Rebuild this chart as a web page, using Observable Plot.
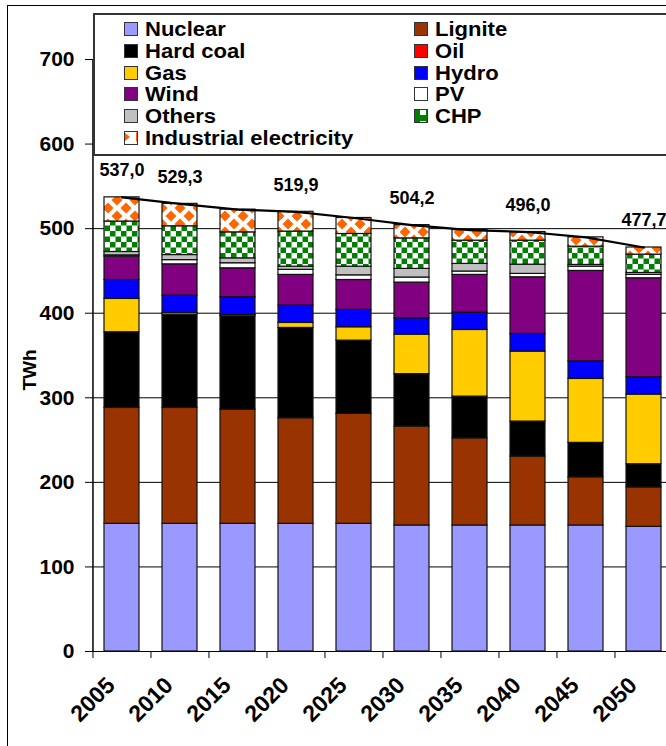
<!DOCTYPE html>
<html><head><meta charset="utf-8">
<script src="https://cdn.jsdelivr.net/npm/d3@7"></script>
<script src="https://cdn.jsdelivr.net/npm/@observablehq/plot@0.6"></script>
<style>
html,body{margin:0;padding:0;background:#fff;overflow:hidden;}
#wrap{position:relative;width:666px;height:746px;overflow:hidden;font-family:"Liberation Sans",Arial,sans-serif;background:#fff;}
#chart svg{position:absolute;left:0;top:0;}
#frame{position:absolute;left:7px;top:5px;width:720px;height:800px;border-left:1.5px solid #000;border-top:1.5px solid #000;pointer-events:none;}
#legend{position:absolute;left:93px;top:13px;width:640px;height:143px;box-sizing:border-box;border:2px solid #333;background:#fff;}
.item{position:absolute;height:20px;font-weight:bold;white-space:nowrap;color:#000;}
.item svg{position:absolute;left:0;top:3px;}
.item span{position:absolute;left:21px;top:0;display:block;height:20px;line-height:20px;font-size:19.5px;transform:scaleX(1.13);transform-origin:0 50%;}
</style></head>
<body>
<svg width="0" height="0" style="position:absolute">
<defs>
<pattern id="chp" patternUnits="userSpaceOnUse" width="11" height="11">
 <rect width="11" height="11" fill="#fff"/><rect width="5.5" height="5.5" fill="#008000"/><rect x="5.5" y="5.5" width="5.5" height="5.5" fill="#008000"/>
</pattern>
<pattern id="chpS" patternUnits="userSpaceOnUse" width="12" height="12">
 <rect width="12" height="12" fill="#fff"/><rect width="6" height="6" fill="#008000"/><rect x="6" y="6" width="6" height="6" fill="#008000"/><rect x="0" y="6" width="6" height="6" fill="#008000"/>
</pattern>
<pattern id="ind" patternUnits="userSpaceOnUse" width="18" height="16">
 <rect width="18" height="16" fill="#fff"/>
 <path d="M9,2.5 L14.5,8 L9,13.5 L3.5,8Z M0,-5.5 L5.5,0 L0,5.5 L-5.5,0Z M18,-5.5 L23.5,0 L18,5.5 L12.5,0Z M0,10.5 L5.5,16 L0,21.5 L-5.5,16Z M18,10.5 L23.5,16 L18,21.5 L12.5,16Z" fill="#ff6600"/>
</pattern>
<pattern id="indS" patternUnits="userSpaceOnUse" width="12" height="12">
 <rect width="12" height="12" fill="#fff"/>
 <path d="M0,1 L6,6 L0,11Z" fill="#ff6600"/>
</pattern>
</defs></svg>
<div id="wrap"><div id="chart"></div><div id="legend"></div><div id="frame"></div></div>
<script>
// ---- data (TWh) ----
const years = [2005, 2010, 2015, 2020, 2025, 2030, 2035, 2040, 2045, 2050];
const sources = ["Nuclear", "Lignite", "Hard coal", "Oil", "Gas", "Hydro", "Wind", "PV", "Others", "CHP", "Industrial electricity"];
const colors = ["#9999ff", "#993300", "#000000", "#ff0000", "#ffcc00", "#0000ff", "#800080", "#ffffff", "#c0c0c0", "url(#chp)", "url(#ind)"];
const legendSwatches = ["#9999ff", "#993300", "#000000", "#ff0000", "#ffcc00", "#0000ff", "#800080", "#ffffff", "#c0c0c0", "url(#chpS)", "url(#indS)"];

const nuclear    = [151, 151, 151, 151, 151, 149, 149, 149, 149, 147.4];
const lignite    = [137, 137, 135, 124.8, 130, 117, 103, 81.5, 57, 46.6];
const hardCoal   = [89.5, 110.3, 110.4, 106.8, 86.6, 62, 49.4, 41.4, 40.7, 27.4];
const oil        = [0, 0, 0, 0, 0, 0, 0, 0, 0, 0];
const gas        = [39.4, 2, 1.6, 5.9, 15.8, 46.7, 78.8, 82.7, 75.6, 82.4];
const hydro      = [22.4, 20.5, 20.8, 20.5, 20.5, 19.3, 20.5, 20.9, 20.8, 20.4];
const wind       = [27.6, 37, 34.3, 36.3, 35.4, 42.2, 44.6, 67, 106.9, 117.1];
const pv         = [1.5, 5, 6, 6, 5.5, 6, 4, 4, 5, 4];
const others     = [4, 6, 5.8, 3.7, 10.2, 10.2, 9, 10.9, 2.1, 2.3];
const chp        = [36, 34, 30.7, 41.5, 38.7, 36.1, 27.5, 28.4, 21.6, 21.7];
const industrial = [28.6, 26.5, 26.9, 23.4, 18.9, 15.7, 12.5, 10.2, 11, 8.4];

const totals      = [537.0, 529.3, 522.5, 519.9, 512.6, 504.2, 498.3, 496.0, 489.7, 477.7];
const labelYears  = [2005, 2010, 2020, 2030, 2040, 2050];
const labelValues = [537.0, 529.3, 519.9, 504.2, 496.0, 477.7];
const yTicks = [0, 100, 200, 300, 400, 500, 600, 700];
const yLabel = "TWh";

const series = [nuclear, lignite, hardCoal, oil, gas, hydro, wind, pv, others, chp, industrial];

// ---- build tables ----
const rows = [];
years.forEach((yr, i) => sources.forEach((s, k) => {
  if (series[k][i] > 0) rows.push({year: yr, source: s, value: series[k][i]});
}));
const totalRows = years.map((yr, i) => ({year: yr, total: totals[i]}));
const labelRows = labelYears.map((yr, i) => ({year: yr, value: labelValues[i]}));

// ---- layout ----
const W = 666, H = 746;
const xRange = [92, 672.8], pIn = 0.4, pOut = 0.2;
const xStep = (xRange[1] - xRange[0]) / (years.length - pIn + 2 * pOut);

const chart = Plot.plot({
  width: W, height: H,
  marginLeft: 92, marginRight: 0, marginTop: 59, marginBottom: 95,
  style: {fontFamily: "'Liberation Sans', Arial, sans-serif", background: "transparent", color: "#000", overflow: "hidden"},
  x: {type: "band", domain: years, range: xRange, paddingInner: pIn, paddingOuter: pOut},
  y: {domain: [0, 700]},
  color: {type: "ordinal", domain: sources, range: colors},
  marks: [
    Plot.ruleY(yTicks, {stroke: "#000", strokeWidth: 1}),
    Plot.barY(rows, {x: "year", y: "value", fill: "source", stroke: "#111", strokeWidth: 1.2}),
    Plot.line(totalRows, {x: "year", y: "total", stroke: "#000", strokeWidth: 2.2}),
    Plot.text(labelRows, {x: "year", y: "value", text: d => d.value.toFixed(1).replace(".", ","), dy: -27, fontSize: 18, fontWeight: "bold"}),
    Plot.ruleX([years[0]], {y1: 0, y2: 700, dx: -xStep / 2, stroke: "#000", strokeWidth: 1.5}),
    Plot.axisY({ticks: yTicks, tickSize: 7, tickPadding: 11, fontSize: 21, fontWeight: "bold", label: null}),
    Plot.axisX({ticks: years, tickSize: 7, tickFormat: () => "", dx: -xStep / 2, label: null}),
    Plot.axisX({ticks: years, tickSize: 0, tickPadding: 30, tickRotate: -45, dx: -11, fontSize: 23, fontWeight: "bold", tickFormat: d => String(d), label: null}),
    Plot.text([yLabel], {frameAnchor: "left", rotate: -90, dx: -63, dy: 35, fontSize: 19, fontWeight: "bold"})
  ]
});
document.getElementById("chart").append(chart);

// ---- legend (row-major, two columns) ----
const legend = document.getElementById("legend");
sources.forEach((s, i) => {
  const col = i % 2, row = Math.floor(i / 2);
  const it = document.createElement("div");
  it.className = "item";
  it.style.left = (col === 0 ? 29 : 319) + "px";
  it.style.top = (4 + row * 21.8) + "px";
  it.innerHTML = `<svg width="14" height="14"><rect x="0.5" y="0.5" width="13" height="13" fill="${legendSwatches[i]}" stroke="#333" stroke-width="1"/></svg><span>${s}</span>`;
  legend.append(it);
});
</script>
</body></html>
